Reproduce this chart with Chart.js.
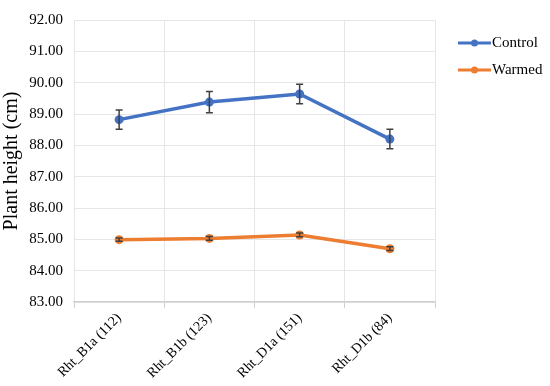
<!DOCTYPE html>
<html>
<head>
<meta charset="utf-8">
<script src="https://cdn.jsdelivr.net/npm/chart.js@4.4.0/dist/chart.umd.min.js"></script>
<style>
  html, body { margin: 0; padding: 0; background: #fff; }
  #wrap { width: 550px; height: 386px; position: relative; }
</style>
</head>
<body>
<div id="wrap"><canvas id="myChart_height"></canvas></div>
<script>
const categories = ['Rht_B1a (112)', 'Rht_B1b (123)', 'Rht_D1a (151)', 'Rht_D1b (84)'];
const controlValues = [88.82, 89.38, 89.64, 88.20];
const controlErrors = [0.31, 0.34, 0.31, 0.31];
const warmedValues = [84.99, 85.03, 85.14, 84.70];
const warmedErrors = [0.05, 0.06, 0.06, 0.06];
const yTicks = [83, 84, 85, 86, 87, 88, 89, 90, 91, 92];

const serif = "'Liberation Serif', 'DejaVu Serif', serif";

// error bars, drawn through the chart's own scales
const errorBars = {
  id: 'errorBars',
  afterDatasetsDraw(chart) {
    const ctx = chart.ctx;
    const x = chart.scales.x, y = chart.scales.y;
    ctx.save();
    ctx.strokeStyle = '#404040';
    ctx.lineWidth = 1.5;
    chart.data.datasets.forEach(ds => {
      ds.data.forEach((v, i) => {
        const e = ds.errors[i];
        const px = x.getPixelForValue(i);
        const top = y.getPixelForValue(v + e);
        const bot = y.getPixelForValue(v - e);
        ctx.beginPath();
        ctx.moveTo(px, top); ctx.lineTo(px, bot);
        ctx.moveTo(px - 3.5, top); ctx.lineTo(px + 3.5, top);
        ctx.moveTo(px - 3.5, bot); ctx.lineTo(px + 3.5, bot);
        ctx.stroke();
      });
    });
    ctx.restore();
  }
};

// legend on the right: line with a dot, then the name
const sideLegend = {
  id: 'sideLegend',
  afterDraw(chart) {
    const ctx = chart.ctx;
    ctx.save();
    ctx.font = '15px ' + serif;
    ctx.textBaseline = 'middle';
    chart.data.datasets.forEach((ds, i) => {
      const ly = 43 + i * 27;
      const lx = 458;
      ctx.strokeStyle = ds.borderColor;
      ctx.lineWidth = 3;
      ctx.beginPath();
      ctx.moveTo(lx, ly); ctx.lineTo(lx + 33, ly);
      ctx.stroke();
      ctx.fillStyle = ds.borderColor;
      ctx.beginPath();
      ctx.arc(lx + 16.5, ly, 3.5, 0, Math.PI * 2);
      ctx.fill();
      ctx.fillStyle = '#000';
      ctx.fillText(ds.label, lx + 34, ly);
    });
    ctx.restore();
  }
};

new Chart(document.getElementById('myChart_height'), {
  type: 'line',
  data: {
    labels: categories,
    datasets: [{
      label: 'Control',
      data: controlValues,
      errors: controlErrors,
      borderColor: '#4472C4',
      backgroundColor: '#4472C4',
      borderWidth: 3.5,
      pointRadius: 4.5,
      pointBorderWidth: 0,
      pointHoverRadius: 4.5,
      fill: false
    }, {
      label: 'Warmed',
      data: warmedValues,
      errors: warmedErrors,
      borderColor: '#ED7D31',
      backgroundColor: '#ED7D31',
      borderWidth: 3.5,
      pointRadius: 4.5,
      pointBorderWidth: 0,
      pointHoverRadius: 4.5,
      fill: false
    }]
  },
  options: {
    responsive: true,
    maintainAspectRatio: false,
    animation: false,
    layout: { padding: { top: 12, right: 115, left: 0, bottom: 0 } },
    plugins: { legend: { display: false }, tooltip: { enabled: false } },
    scales: {
      x: {
        offset: true,
        grid: { offset: true, color: '#e6e6e6', tickColor: '#d0d0d0', tickLength: 6 },
        border: { color: '#d0d0d0', width: 1.5 },
        ticks: { minRotation: 45, maxRotation: 45, color: '#000', font: { family: serif, size: 14 }, padding: 2 },
        afterFit(axis) { axis.height = 84; }
      },
      y: {
        min: 83,
        max: 92,
        afterBuildTicks(axis) { axis.ticks = yTicks.map(v => ({ value: v })); },
        grid: { color: '#e6e6e6', drawTicks: false },
        border: { display: false },
        ticks: { color: '#000', font: { family: serif, size: 15 }, padding: 11, callback: v => v.toFixed(2) },
        title: { display: true, text: 'Plant height (cm)', color: '#000', font: { family: serif, size: 20 }, padding: { top: 0, bottom: 0 } },
        afterFit(axis) { axis.width = 74; }
      }
    }
  },
  plugins: [errorBars, sideLegend]
});
</script>
</body>
</html>
